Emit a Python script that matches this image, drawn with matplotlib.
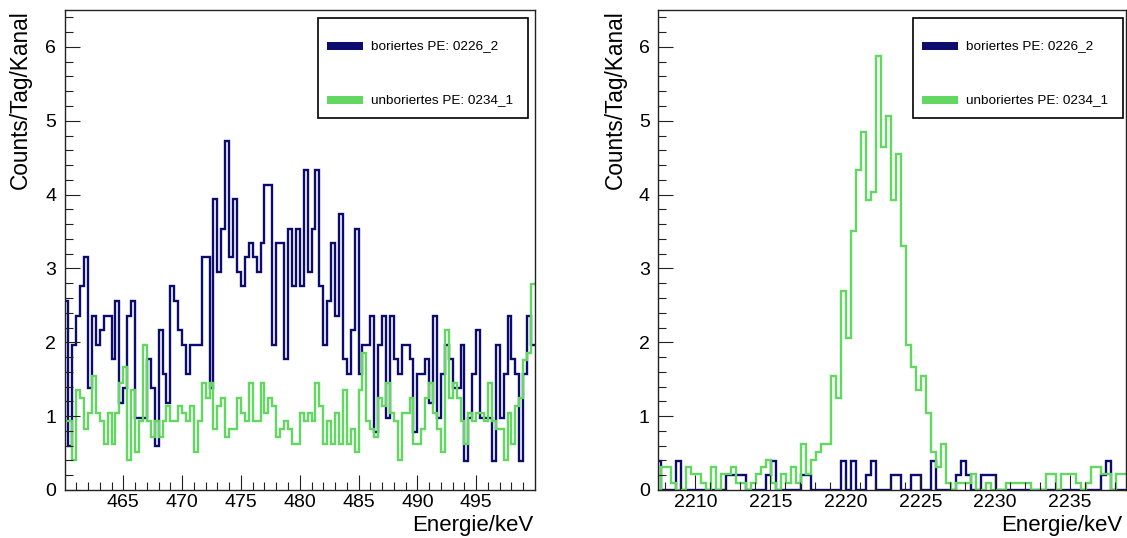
import numpy as np
import matplotlib
matplotlib.use("Agg")
import matplotlib.pyplot as plt
from matplotlib.patches import Rectangle

plt.rcParams['font.family'] = ['Liberation Sans', 'DejaVu Sans']

# =============================================================================
# Data (Counts/Tag/Kanal, 1/3 keV channels)
# =============================================================================
left_range = (460.0, 500.0)
left_blue = [2.56, 0.59, 1.97, 2.36, 2.76, 3.15, 1.38, 2.36, 1.97, 2.17,
             2.36, 2.36, 1.77, 2.56, 1.18, 1.38, 2.36, 2.56, 0.98, 0.98,
             0.98, 1.77, 1.38, 0.59, 2.17, 1.57, 1.18, 2.76, 2.56, 2.17,
             1.97, 1.57, 1.97, 1.97, 1.97, 3.15, 3.15, 1.38, 3.94, 2.95,
             3.54, 4.72, 3.15, 3.94, 2.95, 2.76, 3.15, 3.35, 3.15, 2.95,
             3.35, 4.13, 4.13, 1.97, 3.35, 3.35, 1.77, 3.54, 2.76, 3.54,
             2.76, 4.33, 2.95, 3.54, 4.33, 2.76, 1.97, 2.56, 3.35, 2.36,
             3.74, 1.77, 1.57, 2.17, 3.54, 1.57, 1.97, 1.97, 2.36, 0.79,
             1.97, 2.36, 0.98, 2.36, 1.77, 1.57, 1.97, 1.97, 1.77, 0.79,
             1.57, 1.57, 1.77, 1.18, 2.36, 0.98, 1.57, 1.97, 1.77, 1.38,
             1.38, 1.97, 0.39, 0.98, 1.57, 2.17, 0.98, 0.98, 0.98, 0.39,
             1.97, 0.98, 1.57, 2.36, 1.77, 1.57, 0.39, 1.57, 2.36, 1.97]
left_green = [0.93, 0.93, 0.41, 1.35, 1.24, 0.83, 1.04, 1.55, 1.04, 0.93,
              0.62, 1.04, 0.62, 1.04, 1.45, 1.66, 0.41, 1.35, 0.52, 0.93,
              1.97, 0.93, 0.72, 0.93, 0.72, 0.93, 1.14, 0.93, 0.93, 1.14,
              1.04, 0.93, 1.14, 0.52, 0.93, 1.45, 1.24, 1.45, 0.83, 1.14,
              1.24, 0.72, 0.83, 0.83, 1.24, 1.04, 0.93, 1.45, 0.93, 0.93,
              1.45, 1.04, 1.24, 1.14, 0.72, 0.83, 0.93, 0.83, 0.62, 0.62,
              1.04, 0.93, 1.04, 0.93, 1.45, 1.14, 0.62, 0.93, 0.62, 1.04,
              0.62, 1.35, 0.62, 0.83, 0.52, 1.35, 1.86, 0.93, 0.83, 0.72,
              1.24, 1.14, 1.45, 1.04, 0.93, 0.41, 1.04, 1.04, 1.24, 0.62,
              0.62, 0.83, 1.24, 1.45, 1.04, 0.83, 0.52, 2.17, 1.24, 1.45,
              1.24, 0.93, 0.62, 1.04, 0.93, 1.04, 1.04, 0.93, 1.45, 0.93,
              0.83, 0.83, 0.41, 1.04, 0.62, 1.14, 1.24, 1.76, 1.86, 2.79]

right_start = 2207.36
right_range = (2207.5, 2238.69)
right_blue = [0.39, 0, 0, 0, 0.39, 0, 0, 0, 0, 0,
              0, 0, 0, 0, 0.2, 0.2, 0.2, 0.2, 0, 0,
              0, 0, 0.2, 0.39, 0, 0, 0, 0, 0, 0.2,
              0.2, 0, 0, 0, 0, 0, 0, 0.39, 0, 0.39,
              0, 0, 0.2, 0.39, 0, 0, 0, 0.2, 0.2, 0,
              0, 0.2, 0.2, 0, 0, 0.39, 0, 0, 0, 0,
              0.2, 0.39, 0.2, 0, 0, 0.2, 0.2, 0.2, 0, 0,
              0, 0, 0, 0, 0, 0, 0, 0, 0, 0,
              0, 0, 0, 0, 0, 0, 0, 0, 0, 0.2,
              0.39, 0, 0, 0]
right_green = [0, 0.31, 0.31, 0.10, 0, 0, 0.31, 0.21, 0.21, 0.10,
               0, 0.31, 0, 0.21, 0.21, 0.31, 0.10, 0.10, 0, 0.10,
               0.21, 0.31, 0.41, 0.10, 0, 0.21, 0.10, 0.31, 0.10, 0.62,
               0.21, 0.41, 0.52, 0.62, 0.62, 1.55, 1.24, 2.69, 2.06, 3.51,
               4.34, 4.85, 3.93, 4.03, 5.88, 4.65, 5.06, 3.93, 4.55, 3.30,
               1.97, 1.66, 1.35, 1.55, 1.04, 0.52, 0.31, 0.62, 0.10, 0,
               0.10, 0.10, 0.10, 0.21, 0, 0, 0.10, 0, 0, 0,
               0.10, 0.10, 0.10, 0.10, 0.10, 0, 0, 0, 0.21, 0.21,
               0, 0.21, 0.21, 0.21, 0.10, 0, 0.10, 0.31, 0.31, 0.21,
               0.21, 0, 0.21, 0.21]

label_blue = 'boriertes PE: 0226_2'
label_green = 'unboriertes PE: 0234_1'
blue = '#0c0c6e'
green = '#62d862'

# =============================================================================
# Figure
# =============================================================================
W, H = 1127, 538
fig = plt.figure(figsize=(W / 100, H / 100), dpi=100)


def fbox(x0, y0, x1, y1):
    return [x0 / W, 1 - y1 / H, (x1 - x0) / W, (y1 - y0) / H]


def draw_panel(ax, edges, vb, vg, xlim, major, minor):
    ax.stairs(vb, edges, baseline=None, color=blue, lw=1.7)
    ax.stairs(vg, edges, baseline=None, color=green, lw=1.7)
    ax.set_xlim(*xlim)
    ax.set_ylim(0, 6.5)
    ax.set_xticks(major)
    ax.set_xticks(minor, minor=True)
    ax.set_yticks(range(7))
    ax.set_yticks(np.arange(0, 6.5, 0.2), minor=True)
    ax.tick_params(which='both', direction='in', top=False, right=False,
                   color='#222222', width=0.8, labelsize=14, pad=6)
    ax.tick_params(axis='x', which='major', pad=3)
    ax.tick_params(which='major', length=10.5)
    ax.tick_params(which='minor', length=5.5)
    for s in ax.spines.values():
        s.set_color('#222222')
        s.set_linewidth(1.0)


axL = fig.add_axes(fbox(64.5, 10, 535, 490))
edgesL = np.linspace(left_range[0], left_range[1], len(left_blue) + 1)
draw_panel(axL, edgesL, left_blue, left_green, left_range,
           range(465, 500, 5), range(461, 500))

axR = fig.add_axes(fbox(658, 10, 1125.5, 490))
edgesR = right_start + np.arange(len(right_blue) + 1) / 3.0
draw_panel(axR, edgesR, right_blue, right_green, right_range,
           range(2210, 2240, 5), range(2208, 2239))

# axis titles
for xl, xr in [(20, 533), (615, 1122)]:
    fig.text(xl / W, 1 - 10 / H, 'Counts/Tag/Kanal', rotation=90,
             ha='center', va='top', fontsize=16.3)
    fig.text(xr / W, 1 - 536 / H, 'Energie/keV', ha='right', va='bottom',
             fontsize=16)

# legends
for bx in [318, 913]:
    fig.patches.append(Rectangle((bx / W, 1 - 118 / H), 210 / W, 100 / H,
                                 transform=fig.transFigure, facecolor='white',
                                 edgecolor='black', lw=1.2, zorder=5))
    for yy, col, lab in [(46, blue, label_blue), (100.5, green, label_green)]:
        fig.patches.append(Rectangle(((bx + 9) / W, 1 - (yy + 4) / H),
                                     36 / W, 8 / H, transform=fig.transFigure,
                                     facecolor=col, edgecolor='none', zorder=6))
        fig.text((bx + 53) / W, 1 - yy / H, lab, ha='left', va='center',
                 fontsize=9.7, zorder=7)

fig.savefig('out.png', dpi=100)
